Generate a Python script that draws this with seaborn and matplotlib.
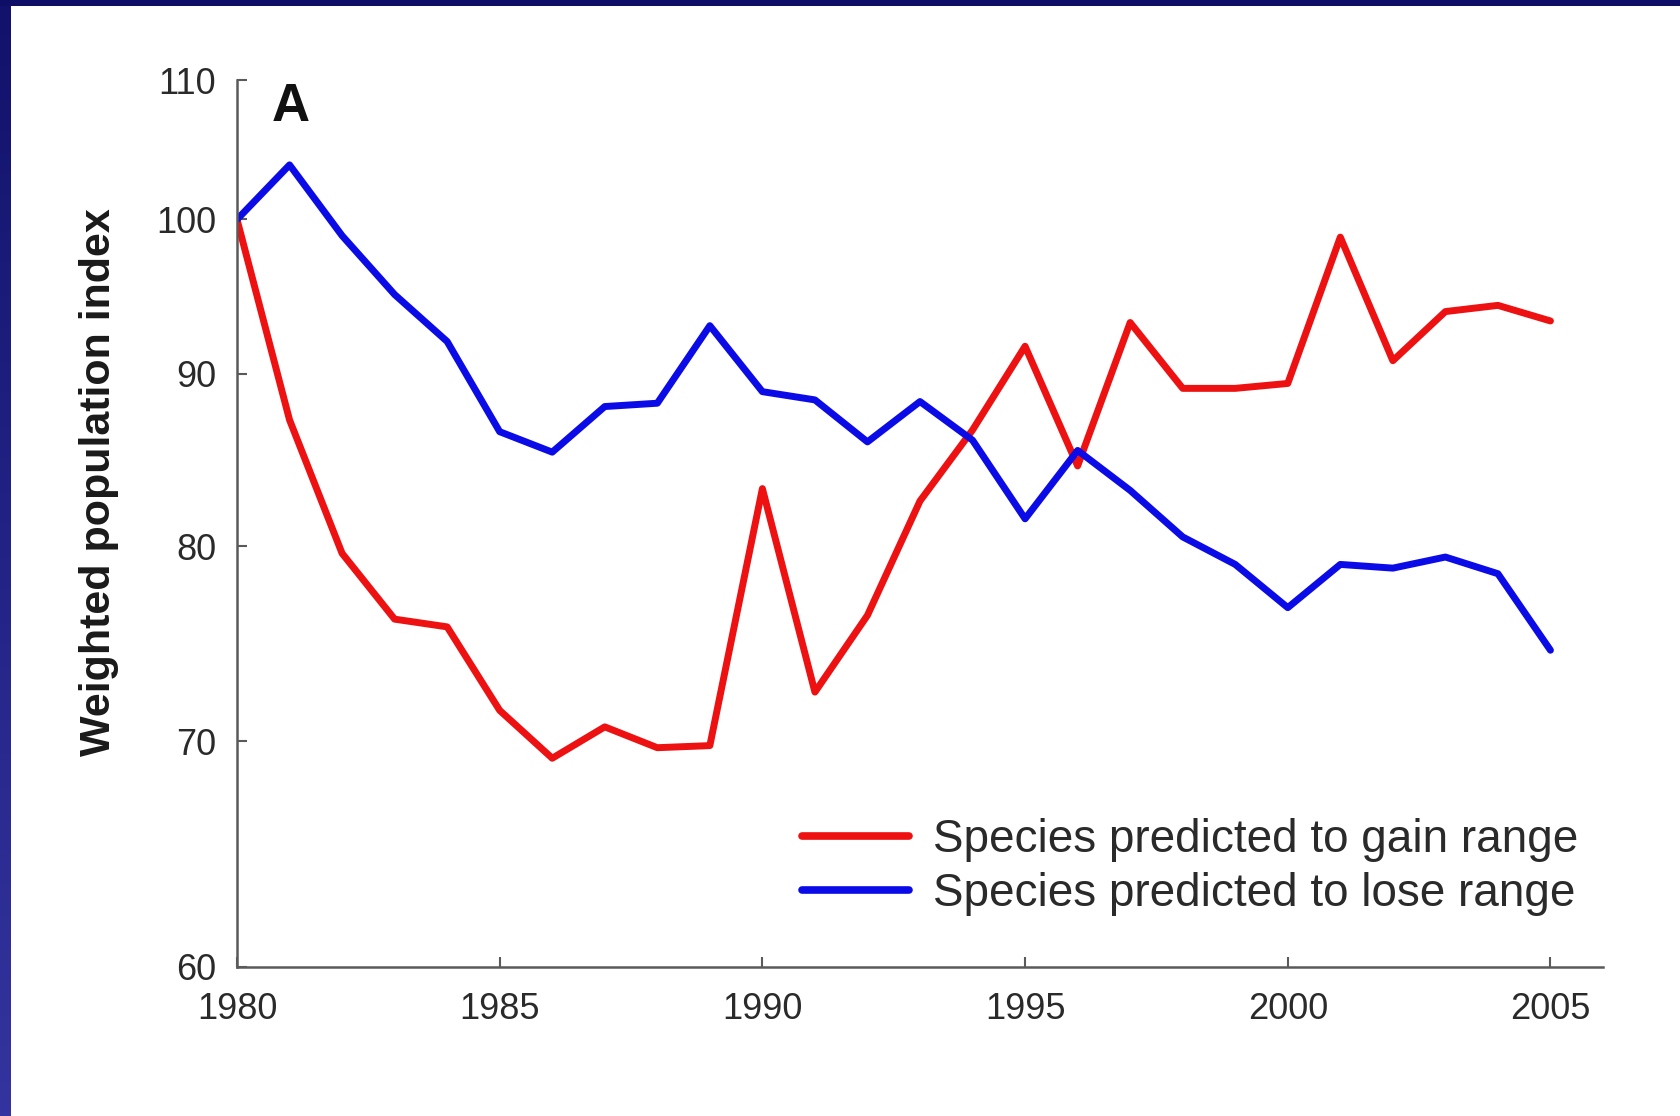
# plot.py - weighted population index, species gaining vs losing range

import numpy as np
import pandas as pd
import matplotlib
matplotlib.use('Agg')
import matplotlib.pyplot as plt
from matplotlib.colors import LinearSegmentedColormap
from matplotlib.ticker import FixedLocator, NullLocator, FixedFormatter
import seaborn as sns

# 数据
years = list(range(1980, 2006))
gain_index = [100, 87.2, 79.6, 76.1, 75.7, 71.5, 69.2, 70.7, 69.7, 69.8,
              83.2, 72.4, 76.3, 82.5, 86.6, 91.7, 84.5, 93.2, 89.1, 89.1,
              89.4, 98.8, 90.8, 93.9, 94.3, 93.3]
lose_index = [100, 103.8, 98.9, 95.0, 92.0, 86.5, 85.3, 88.0, 88.2, 93.0,
              88.9, 88.4, 85.9, 88.3, 86.0, 81.5, 85.4, 83.1, 80.5, 79.0,
              76.7, 79.0, 78.8, 79.4, 78.5, 74.5]
series_names = ['Species predicted to gain range', 'Species predicted to lose range']
y_ticks = [60, 70, 80, 90, 100, 110]
x_ticks = [1980, 1985, 1990, 1995, 2000, 2005]

df = pd.DataFrame({
    'year': years * 2,
    'index': gain_index + lose_index,
    'group': [series_names[0]] * len(years) + [series_names[1]] * len(years),
})

sns.set_theme(style='white')
plt.rcParams['font.family'] = ['Liberation Sans', 'DejaVu Sans']

fig = plt.figure(figsize=(16.81, 11.16), dpi=100)
fig.patch.set_facecolor('white')

W, H = 1681, 1116
ax = fig.add_axes([237 / W, 1 - 967 / H, (1603 - 237) / W, (967 - 80) / H])
ax.set_yscale('log')

palette = {series_names[0]: '#ee1111', series_names[1]: '#0b0be8'}
sns.lineplot(data=df, x='year', y='index', hue='group', palette=palette,
             linewidth=5, ax=ax)

ax.set_xlim(1980, 2006)
ax.set_ylim(60, 110)
ax.yaxis.set_major_locator(FixedLocator(y_ticks))
ax.yaxis.set_major_formatter(FixedFormatter([str(t) for t in y_ticks]))
ax.yaxis.set_minor_locator(NullLocator())
ax.set_xticks(x_ticks)
ax.set_xticklabels([str(t) for t in x_ticks])

# 坐标轴样式
for side in ['top', 'right']:
    ax.spines[side].set_visible(False)
for side in ['left', 'bottom']:
    ax.spines[side].set_color('#5a5a5a')
    ax.spines[side].set_linewidth(1.8)
ax.tick_params(axis='y', direction='in', length=7, width=1.5, color='#5a5a5a',
               labelsize=26, labelcolor='#2a2a2a', pad=15, left=True)
ax.tick_params(axis='x', direction='in', length=7, width=1.5, color='#5a5a5a',
               labelsize=26, labelcolor='#2a2a2a', pad=18, bottom=True)

ax.set_xlabel('')
ax.set_ylabel('Weighted population index', fontsize=31, fontweight='bold',
              color='#1a1a1a')
ax.yaxis.label.set_va('center')
ax.yaxis.set_label_coords(-0.101, 0.547)

ax.text(0.039, 0.969, 'A', transform=ax.transAxes, fontsize=38,
        fontweight='bold', ha='center', va='center', color='#111111')

sns.move_legend(ax, 'upper left', bbox_to_anchor=(802 / W, 1 - 818 / H),
                bbox_transform=fig.transFigure, frameon=False, title=None,
                fontsize=33, handlelength=2.33, handletextpad=0.52,
                labelspacing=0.22, borderpad=0, borderaxespad=0)
for line in ax.get_legend().get_lines():
    line.set_linewidth(5.5)
for txt in ax.get_legend().get_texts():
    txt.set_color('#2a2a2a')

# 页面边框 (slide frame)
grad = np.linspace(0, 1, 256).reshape(-1, 1)
frame_cmap = LinearSegmentedColormap.from_list('frame', ['#12126c', '#3434a0'])
bax = fig.add_axes([0, 0, 11 / W, 1])
bax.imshow(grad, aspect='auto', cmap=frame_cmap, extent=[0, 1, 0, 1], origin='upper')
bax.axis('off')
tax = fig.add_axes([0, 1 - 6 / H, 1, 6 / H])
tax.set_facecolor('#0e0e66')
tax.set_xticks([])
tax.set_yticks([])
for s in tax.spines.values():
    s.set_visible(False)

fig.savefig('out.png', dpi=100, facecolor='white')
